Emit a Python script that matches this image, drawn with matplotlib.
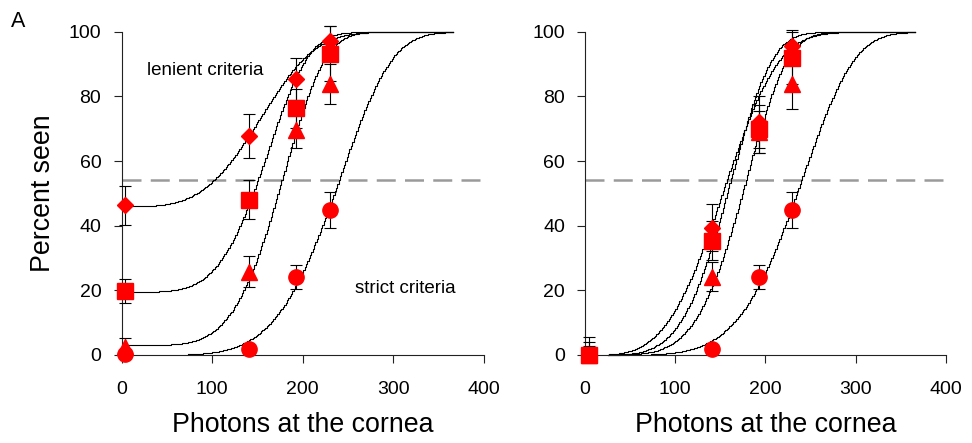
import numpy as np
import matplotlib
matplotlib.use("Agg")
import matplotlib.pyplot as plt

plt.rcParams['font.family'] = ['Liberation Sans', 'DejaVu Sans']

# flash strengths (photons at the cornea)
photons = [4, 141, 193, 230]

# left panel: raw percent seen for the four response criteria
left_diamond = [46.3, 67.7, 85.3, 97.2]
left_square = [19.8, 48.1, 76.3, 93.3]
left_triangle = [2.5, 25.7, 69.6, 84.0]
left_circle = [0.4, 1.7, 24.1, 44.8]
left_diamond_err = [6.0, 6.9, 6.5, 4.6]
left_square_err = [3.7, 6.0, 6.0, 8.5]
left_triangle_err = [2.6, 4.8, 5.5, 6.2]
left_circle_err = [0.0, 1.0, 3.7, 5.5]

# right panel: percent seen corrected for false positives
right_diamond = [0.0, 39.4, 72.0, 95.5]
right_square = [0.0, 35.3, 70.0, 92.0]
right_triangle = [0.0, 24.2, 69.0, 84.0]
right_circle = [0.0, 1.7, 24.1, 44.8]
right_diamond_err = [5.6, 7.3, 8.0, 5.0]
right_square_err = [4.0, 6.0, 7.5, 8.0]
right_triangle_err = [2.6, 4.4, 6.5, 8.0]
right_circle_err = [0.0, 1.0, 3.7, 5.5]

# fitted frequency-of-seeing curves (Weibull scale / shape), per criterion
fit_scale = [168, 170, 187, 251]
fit_shape = [3.6, 4.6, 5.0, 5.3]
left_floor = [46.0, 19.5, 3.0, 0.0]
right_floor = [0.0, 0.0, 0.0, 0.0]
left_curve_start = [4, 4, 4, 73]
right_curve_start = [25, 25, 25, 73]
curve_end = 366

criterion_level = 54

markers = [('D', 8.5), ('s', 11.5), ('^', 12), ('o', 11)]


def draw_panel(ax, values, errors, floors, starts):
    for scale, shape, floor, x0 in zip(fit_scale, fit_shape, floors, starts):
        xs = np.arange(x0, curve_end + 1, 1.5)
        frac = 1 - np.exp(-(xs / scale) ** shape)
        ax.plot(xs, floor + (100 - floor) * frac, color='black', lw=0.8,
                drawstyle='steps-post', clip_on=False, zorder=2)

    ax.axhline(criterion_level, color='#9a9a9a', lw=1.8,
               linestyle=(0, (7.6, 3.7)), zorder=1)

    for (m, ms), vals, errs in zip(markers, values, errors):
        vals = np.array(vals)
        errs = np.array(errs)
        cont = ax.errorbar(photons, vals, yerr=[np.minimum(errs, vals), errs],
                           fmt='none', ecolor='black', elinewidth=0.8,
                           capsize=4.5, capthick=0.8, zorder=3)
        for art in list(cont.lines[1]) + list(cont.lines[2]):
            art.set_clip_on(False)
        ax.plot(photons, vals, linestyle='none', marker=m, ms=ms,
                color='red', mec='red', clip_on=False, zorder=4)

    ax.set_xlim(0, 400)
    ax.set_ylim(0, 100)
    ax.set_xticks([0, 100, 200, 300, 400])
    ax.set_yticks([0, 20, 40, 60, 80, 100])
    for side in ('top', 'right'):
        ax.spines[side].set_visible(False)
    for side in ('left', 'bottom'):
        ax.spines[side].set_linewidth(0.8)
        ax.spines[side].set_color('#222222')
    ax.tick_params(direction='out', length=6, width=0.8, color='#222222',
                   labelsize=14)
    ax.tick_params(axis='x', pad=13)
    ax.tick_params(axis='y', pad=8.5)
    ax.set_xlabel('Photons at the cornea', fontsize=19.3, labelpad=10)


fig = plt.figure(figsize=(9.72, 4.43), dpi=100)
ax1 = fig.add_axes([0.125, 0.199, 0.373, 0.729])
ax2 = fig.add_axes([0.602, 0.199, 0.371, 0.729])

draw_panel(ax1,
           [left_diamond, left_square, left_triangle, left_circle],
           [left_diamond_err, left_square_err, left_triangle_err, left_circle_err],
           left_floor, left_curve_start)
draw_panel(ax2,
           [right_diamond, right_square, right_triangle, right_circle],
           [right_diamond_err, right_square_err, right_triangle_err, right_circle_err],
           right_floor, right_curve_start)

ax1.set_ylabel('Percent seen', fontsize=19.3)
ax1.yaxis.set_label_coords(-0.18, 0.5)
ax1.text(28, 88, 'lenient criteria', fontsize=13.5, va='center', ha='left')
ax1.text(258, 20.6, 'strict criteria', fontsize=13.5, va='center', ha='left')
fig.text(0.011, 0.975, 'A', fontsize=15.5, va='top', ha='left')

fig.savefig('out.png', dpi=100)
